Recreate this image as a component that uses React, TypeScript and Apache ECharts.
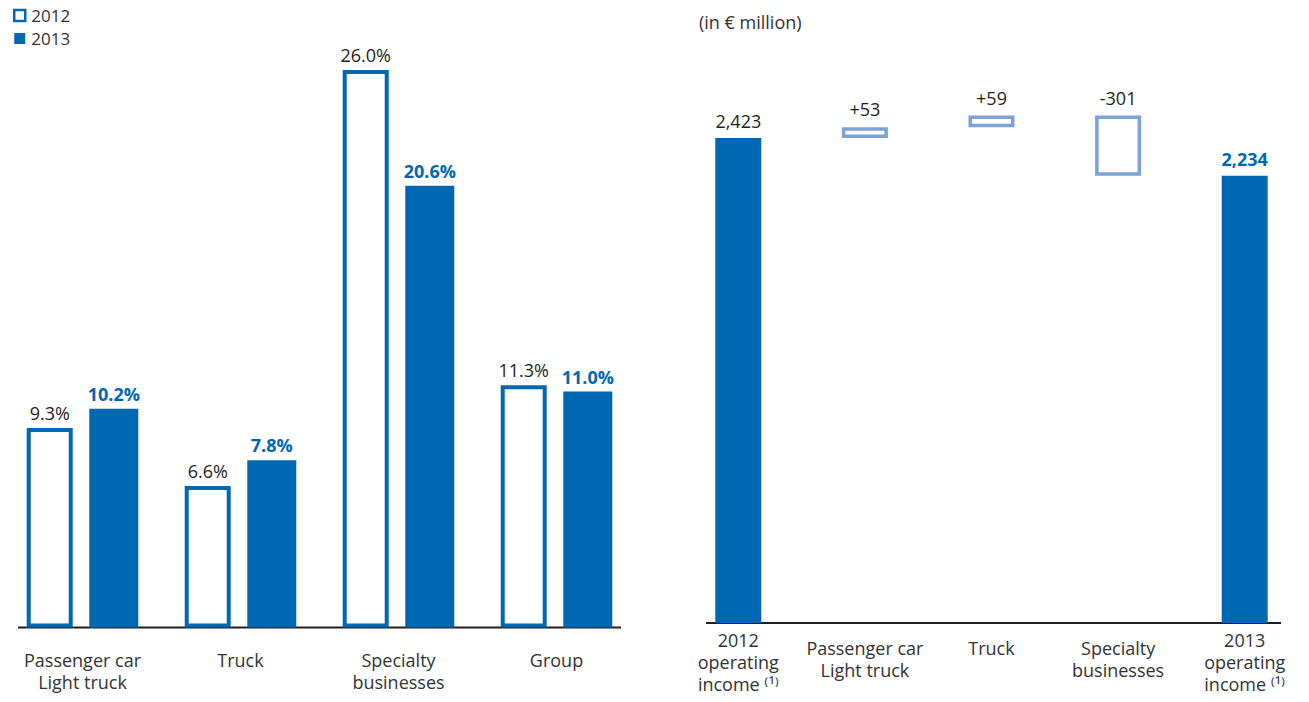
import React, { useEffect, useRef } from "react";
import * as echarts from "echarts";

const BLUE = "#0068b3";
const LIGHT = "#7ca3d6";
const DARK = "#231f20";
const FONT = "'Open Sans', sans-serif";

// Left chart: operating margin by division
const segments = ["Passenger car\nLight truck", "Truck", "Specialty\nbusinesses", "Group"];
const margin2012 = [9.3, 6.6, 26.0, 11.3];
const margin2013 = [10.2, 7.8, 20.6, 11.0];

// Right chart: operating income bridge (€ million)
const bridgeLabels = ["2012\noperating\nincome ⁽¹⁾", "Passenger car\nLight truck", "Truck", "Specialty\nbusinesses", "2013\noperating\nincome ⁽¹⁾"];
const income2012 = 2423;
const bridgeDeltas = [53, 59, -301];
const income2013 = 2234;

export default function App() {
  const ref = useRef<HTMLDivElement>(null);
  useEffect(() => {
    if (!ref.current) return;
    const chart = echarts.init(ref.current, null, { renderer: "svg" });

    // waterfall computation
    const base: (number | string)[] = ["-"];
    const delta: (number | string)[] = ["-"];
    const deltaText: string[] = [""];
    let run = income2012;
    bridgeDeltas.forEach((d) => {
      const next = run + d;
      base.push(Math.min(run, next));
      delta.push(Math.abs(d));
      deltaText.push((d >= 0 ? "+" : "-") + Math.abs(d));
      run = next;
    });
    base.push("-");
    delta.push("-");
    const totals: (number | string)[] = [income2012, "-", "-", "-", income2013];

    const fmtThousands = (v: number) => v.toLocaleString("en-US");

    const option: any = {
      animation: false,
      textStyle: { fontFamily: FONT },
      title: {
        text: "(in € million)",
        left: 694,
        top: 8,
        textStyle: { fontFamily: FONT, fontSize: 18, fontWeight: "normal", color: "#333" },
      },
      legend: {
        orient: "vertical",
        left: 8,
        top: 2,
        itemWidth: 11,
        itemHeight: 11,
        itemGap: 6,
        textStyle: { fontFamily: FONT, fontSize: 17, color: "#333", padding: [0, 0, 0, 1] },
        data: [
          { name: "2012", icon: "rect", itemStyle: { color: "#fff", borderColor: BLUE, borderWidth: 2.5 } },
          { name: "2013", icon: "rect", itemStyle: { color: BLUE, borderWidth: 0 } },
        ],
      },
      grid: [
        { left: 3.5, width: 632, top: 48.5, height: 579, containLabel: false },
        { left: 675, width: 633, top: 62.5, height: 560.5, containLabel: false },
      ],
      xAxis: [
        {
          type: "category",
          gridIndex: 0,
          data: segments,
          axisLine: { show: false },
          axisTick: { show: false },
          axisLabel: { interval: 0, margin: 21, fontFamily: FONT, fontSize: 18, color: "#333", lineHeight: 22 },
        },
        {
          type: "category",
          gridIndex: 1,
          data: bridgeLabels,
          axisLine: { show: false },
          axisTick: { show: false },
          axisLabel: {
            interval: 0,
            margin: 6,
            fontFamily: FONT,
            fontSize: 18,
            color: "#333",
            lineHeight: 22,
            formatter: (v: string) => {
              const lines = v.split("\n");
              const body = lines.map((l) => "{t|" + l + "}").join("\n");
              return lines.length < 3 ? "{gap| }\n" + body : body;
            },
            rich: {
              t: { fontFamily: FONT, fontSize: 18, color: "#333", lineHeight: 22 },
              gap: { fontSize: 1, lineHeight: 8 },
            },
          },
        },
      ],
      yAxis: [
        { type: "value", gridIndex: 0, min: 0, max: 27, show: false, splitLine: { show: false } },
        { type: "value", gridIndex: 1, min: 0, max: 2800, show: false, splitLine: { show: false } },
      ],
      graphic: [
        { type: "line", shape: { x1: 18, y1: 627.5, x2: 621, y2: 627.5 }, style: { stroke: DARK, lineWidth: 2 } },
        { type: "line", shape: { x1: 706, y1: 623, x2: 1281, y2: 623 }, style: { stroke: DARK, lineWidth: 2 } },
      ],
      series: [
        {
          name: "2012",
          type: "bar",
          xAxisIndex: 0,
          yAxisIndex: 0,
          data: margin2012,
          barWidth: 46,
          barGap: "36%",
          itemStyle: { color: "#fff", borderColor: BLUE, borderWidth: 4 },
          label: {
            show: true,
            position: "top",
            distance: 6,
            fontFamily: FONT,
            fontSize: 18,
            color: DARK,
            formatter: (p: any) => p.value.toFixed(1) + "%",
          },
        },
        {
          name: "2013",
          type: "bar",
          xAxisIndex: 0,
          yAxisIndex: 0,
          data: margin2013,
          barWidth: 49,
          barGap: "36%",
          itemStyle: { color: BLUE },
          label: {
            show: true,
            position: "top",
            distance: 6,
            fontFamily: FONT,
            fontSize: 18,
            fontWeight: "bold",
            color: BLUE,
            formatter: (p: any) => p.value.toFixed(1) + "%",
          },
        },
        {
          name: "base",
          type: "bar",
          xAxisIndex: 1,
          yAxisIndex: 1,
          stack: "wf",
          data: base,
          barWidth: 46,
          itemStyle: { color: "transparent" },
          silent: true,
        },
        {
          name: "delta",
          type: "bar",
          xAxisIndex: 1,
          yAxisIndex: 1,
          stack: "wf",
          data: delta,
          barWidth: 46,
          itemStyle: { color: "#fff", borderColor: LIGHT, borderWidth: 3.5 },
          label: {
            show: true,
            position: "top",
            distance: 9,
            fontFamily: FONT,
            fontSize: 18,
            color: DARK,
            formatter: (p: any) => deltaText[p.dataIndex],
          },
        },
        {
          name: "total",
          type: "bar",
          xAxisIndex: 1,
          yAxisIndex: 1,
          stack: "wf",
          barWidth: 50,
          data: totals.map((v, i) =>
            v === "-"
              ? "-"
              : {
                  value: v,
                  label:
                    i === totals.length - 1
                      ? { fontWeight: "bold", color: BLUE }
                      : { fontWeight: "normal", color: DARK },
                }
          ),
          itemStyle: { color: BLUE },
          label: {
            show: true,
            position: "top",
            distance: 8,
            fontFamily: FONT,
            fontSize: 18,
            formatter: (p: any) => fmtThousands(p.value),
          },
        },
      ],
    };
    chart.setOption(option);
    return () => chart.dispose();
  }, []);
  return (
    <div
      ref={ref}
      style={{ position: "fixed", left: 0, top: 0, width: 1309, height: 702, background: "#fff" }}
    />
  );
}
